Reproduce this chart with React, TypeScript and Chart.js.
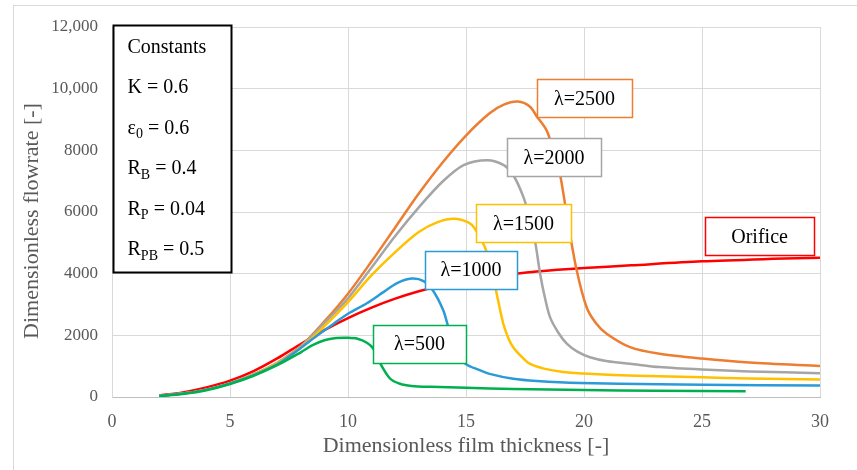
import React, { useEffect, useRef } from 'react';
import { Chart, registerables } from 'chart.js';

Chart.register(...registerables);

// ---- axis ticks ----
const xTickValues = [0, 5, 10, 15, 20, 25, 30];
const yTickValues = [0, 2000, 4000, 6000, 8000, 10000, 12000];
const yTickLabels = ['0', '2000', '4000', '6000', '8000', '10,000', '12,000'];

// ---- series ----
const orificeX = [2, 3, 4, 5, 6, 7, 8, 9, 10, 11, 12, 13, 14, 15, 16, 17, 18, 20, 22, 25, 28, 30];
const orificeY = [50, 150, 310, 530, 840, 1250, 1720, 2170, 2560, 2900, 3190, 3430, 3620, 3770, 3890, 3990, 4070, 4180, 4270, 4400, 4480, 4520];

const l2500X = [2, 3, 4, 5, 6, 7, 8, 9, 10, 11, 12, 13, 14, 15, 16, 16.6, 17.2, 17.7, 18, 18.42, 18.7, 18.98, 19.33, 19.69, 20.11, 20.5, 20.96, 21.95, 23.2, 25, 27, 30];
const l2500Y = [40, 110, 240, 440, 730, 1110, 1650, 2450, 3350, 4400, 5500, 6600, 7600, 8480, 9200, 9480, 9580, 9420, 9100, 8640, 8000, 7240, 5620, 4110, 2910, 2400, 2050, 1615, 1400, 1245, 1120, 1005];

const l2000X = [2, 3, 4, 5, 6, 7, 8, 9, 10, 11, 12, 13, 14, 14.9, 15.9, 16.6, 17, 17.43, 17.7, 17.92, 18.14, 18.35, 18.56, 18.9, 19.27, 19.7, 20.25, 21, 21.95, 23.2, 25, 27, 30];
const l2000Y = [40, 110, 240, 440, 730, 1110, 1640, 2400, 3200, 4200, 5220, 6150, 6980, 7520, 7680, 7520, 7200, 6490, 5800, 5080, 4000, 3200, 2590, 2100, 1730, 1480, 1290, 1160, 1080, 970, 890, 830, 772];

const l1500X = [2, 3, 4, 5, 6, 7, 8, 9, 10, 11, 12, 13, 13.8, 14.5, 15.1, 15.38, 15.8, 16.05, 16.3, 16.58, 16.8, 17, 17.3, 17.7, 18.3, 19.12, 20, 21.24, 23.2, 25, 27, 30];
const l1500Y = [40, 110, 240, 440, 720, 1090, 1600, 2300, 3080, 3950, 4700, 5350, 5670, 5780, 5660, 5455, 4860, 4200, 3350, 2375, 1900, 1615, 1350, 1080, 920, 810, 760, 715, 670, 640, 600, 564];

const l1000X = [2, 3, 4, 5, 6, 7, 8, 8.67, 9.38, 10, 10.8, 11.5, 12.1, 12.7, 13.2, 13.6, 14.04, 14.25, 14.5, 14.96, 15.6, 16, 17, 18, 19.83, 23.2, 25, 30];
const l1000Y = [40, 110, 240, 440, 710, 1060, 1590, 1980, 2370, 2700, 3040, 3400, 3700, 3840, 3760, 3455, 2805, 2265, 1700, 1090, 865, 750, 590, 520, 455, 410, 400, 370];

const l500X = [2, 3, 4, 5, 6, 7, 8, 8.5, 9, 9.5, 10, 10.4, 10.8, 11.06, 11.36, 11.78, 12.2, 12.7, 13.5, 15, 17, 20, 23, 26.85];
const l500Y = [30, 100, 220, 420, 690, 1030, 1450, 1680, 1840, 1910, 1920, 1890, 1760, 1580, 1100, 600, 430, 360, 330, 300, 260, 225, 200, 185];

// ---- callout labels (anchored in data units) ----
const labelTexts = ['λ=2500', 'λ=2000', 'λ=1500', 'λ=1000', 'λ=500', 'Orifice'];
const labelX = [20.02, 18.73, 17.44, 15.21, 13.03, 27.44];
const labelY = [9688, 7774, 5633, 4125, 1726, 5212];
const labelColors = ['#ED7D31', '#A5A5A5', '#FFC000', '#2A9BD8', '#00B050', '#FF0000'];
const labelWidths = [95, 94, 95, 92, 93, 109];

// ---- constants box ----
const constBase = ['Constants', 'K = 0.6', 'ε', 'R', 'R', 'R'];
const constSub = ['', '', '0', 'B', 'P', 'PB'];
const constRest = ['', '', ' = 0.6', ' = 0.4', ' = 0.04', ' = 0.5'];
const constBoxX = 0.04;
const constBoxY = 12055;

const SERIF = '"Liberation Serif", "Times New Roman", serif';

function pts(xs: number[], ys: number[]) {
  return xs.map((x, i) => ({ x, y: ys[i] }));
}

export default function App() {
  const canvasRef = useRef<HTMLCanvasElement | null>(null);

  useEffect(() => {
    const canvas = canvasRef.current;
    if (!canvas) return;

    const decor = {
      id: 'decor',
      beforeDraw(chart: any) {
        const { ctx, width, height } = chart;
        ctx.save();
        ctx.fillStyle = '#ffffff';
        ctx.fillRect(0, 0, width, height);
        ctx.strokeStyle = '#d9d9d9';
        ctx.lineWidth = 1;
        ctx.strokeRect(13.5, 5.5, width + 20, height + 20);
        ctx.restore();
      },
      afterDraw(chart: any) {
        const { ctx } = chart;
        const xs = chart.scales.x;
        const ys = chart.scales.y;
        ctx.save();
        // y axis title
        ctx.save();
        ctx.translate(32, 221);
        ctx.rotate(-Math.PI / 2);
        ctx.font = `22px ${SERIF}`;
        ctx.fillStyle = '#595959';
        ctx.textAlign = 'center';
        ctx.textBaseline = 'middle';
        ctx.fillText('Dimensionless flowrate [-]', 0, 0);
        ctx.restore();

        // callout boxes
        labelTexts.forEach((t, i) => {
          const cx = xs.getPixelForValue(labelX[i]);
          const cy = ys.getPixelForValue(labelY[i]);
          const w = labelWidths[i];
          const h = 38;
          const l = Math.round(cx - w / 2) + 0.5;
          const tp = Math.round(cy - h / 2) + 0.5;
          ctx.fillStyle = '#ffffff';
          ctx.fillRect(l, tp, w, h);
          ctx.strokeStyle = labelColors[i];
          ctx.lineWidth = 1.5;
          ctx.strokeRect(l, tp, w, h);
          ctx.fillStyle = '#000000';
          ctx.font = `20px ${SERIF}`;
          ctx.textAlign = 'center';
          ctx.textBaseline = 'middle';
          ctx.fillText(t, cx, cy + 1);
        });

        // constants box
        const bl = Math.round(xs.getPixelForValue(constBoxX)) + 0.5;
        const bt = Math.round(ys.getPixelForValue(constBoxY)) + 0.5;
        const bw = 118;
        const bh = 247;
        ctx.fillStyle = '#ffffff';
        ctx.fillRect(bl, bt, bw, bh);
        ctx.strokeStyle = '#000000';
        ctx.lineWidth = 2;
        ctx.strokeRect(bl, bt, bw, bh);
        ctx.fillStyle = '#000000';
        ctx.textAlign = 'left';
        ctx.textBaseline = 'middle';
        constBase.forEach((b, i) => {
          const y = bt + 22 + i * 40.5;
          let x = bl + 14;
          ctx.font = `20px ${SERIF}`;
          ctx.fillText(b, x, y);
          x += ctx.measureText(b).width;
          if (constSub[i]) {
            ctx.font = `14px ${SERIF}`;
            ctx.fillText(constSub[i], x, y + 6);
            x += ctx.measureText(constSub[i]).width;
          }
          if (constRest[i]) {
            ctx.font = `20px ${SERIF}`;
            ctx.fillText(constRest[i], x, y);
          }
        });
        ctx.restore();
      },
    };

    const line = (data: any, color: string) => ({
      data,
      borderColor: color,
      backgroundColor: color,
      borderWidth: 2.5,
      pointRadius: 0,
      showLine: true,
      fill: false,
      tension: 0.3,
    });

    const chart = new Chart(canvas, {
      type: 'scatter',
      data: {
        datasets: [
          line(pts(l500X, l500Y), '#00B050'),
          line(pts(l1000X, l1000Y), '#2A9BD8'),
          line(pts(l1500X, l1500Y), '#FFC000'),
          line(pts(l2000X, l2000Y), '#A5A5A5'),
          line(pts(l2500X, l2500Y), '#ED7D31'),
          line(pts(orificeX, orificeY), '#FF0000'),
        ],
      },
      options: {
        responsive: false,
        animation: false,
        devicePixelRatio: 1,
        layout: { padding: { left: 0, right: 37, top: 27, bottom: 0 } },
        plugins: {
          legend: { display: false },
          tooltip: { enabled: false },
        },
        scales: {
          x: {
            type: 'linear',
            min: 0,
            max: 30,
            afterBuildTicks: (s: any) => {
              s.ticks = xTickValues.map((v) => ({ value: v }));
            },
            afterFit: (s: any) => {
              s.height = 73;
            },
            ticks: {
              padding: 14,
              color: '#595959',
              font: { family: SERIF, size: 18 },
            },
            grid: { color: '#d9d9d9', drawTicks: false, lineWidth: 1 },
            border: { color: '#bfbfbf', width: 1 },
            title: {
              display: true,
              text: 'Dimensionless film thickness [-]',
              color: '#595959',
              font: { family: SERIF, size: 22 },
              padding: { top: 0, bottom: 11 },
            },
          },
          y: {
            type: 'linear',
            min: 0,
            max: 12000,
            afterBuildTicks: (s: any) => {
              s.ticks = yTickValues.map((v) => ({ value: v }));
            },
            afterFit: (s: any) => {
              s.width = 112;
            },
            ticks: {
              padding: 14,
              color: '#595959',
              font: { family: SERIF, size: 17 },
              callback: (_v: any, i: number) => yTickLabels[i],
            },
            grid: { color: '#d9d9d9', drawTicks: false, lineWidth: 1 },
            border: { color: '#d9d9d9', width: 1 },
          },
        },
      },
      plugins: [decor],
    });

    return () => {
      chart.destroy();
    };
  }, []);

  return (
    <div style={{ position: 'fixed', left: 0, top: 0, width: 857, height: 470, background: '#fff' }}>
      <canvas ref={canvasRef} width={857} height={470} style={{ width: 857, height: 470, display: 'block' }} />
    </div>
  );
}
